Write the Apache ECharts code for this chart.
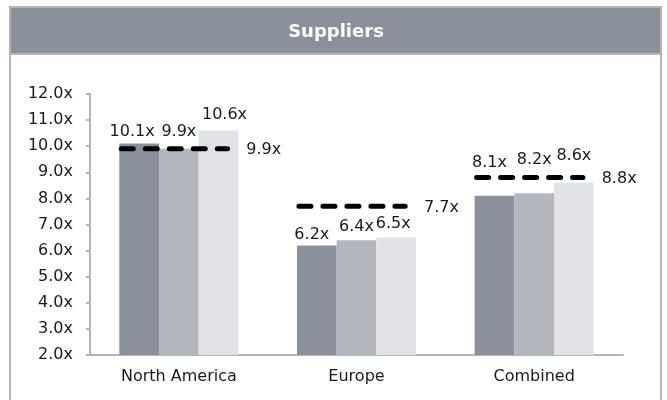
<!DOCTYPE html>
<html>
<head>
<meta charset="utf-8">
<script src="https://cdn.jsdelivr.net/npm/echarts@6/dist/echarts.min.js"></script>
<style>
html,body{margin:0;padding:0;background:#fff;}
#c{width:667px;height:400px;}
</style>
</head>
<body>
<div id="c"></div>
<script>
const categories = ['North America', 'Europe', 'Combined'];
const series1 = [10.1, 6.2, 8.1];
const series2 = [9.9, 6.4, 8.2];
const series3 = [10.6, 6.5, 8.6];
const benchmark = [9.9, 7.7, 8.8];
const titleText = 'Suppliers';

// label nudges (layout only), [dx, dy] per category for each bar series
const nudge1 = [[-7, 2], [-5, 3], [-5, -19]];
const nudge2 = [[0, -3], [0, 1], [0, -19]];
const nudge3 = [[6, -2], [-3, 0], [0, -13]];

const FONT = 'DejaVu Sans';
const fmt = v => v.toFixed(1) + 'x';

function barSeries(vals, color, nudge) {
  return {
    type: 'bar',
    barGap: '0%',
    barCategoryGap: '33%',
    itemStyle: { color: color },
    data: vals.map((v, i) => ({
      value: v,
      label: { offset: nudge[i] }
    })),
    label: {
      show: true,
      position: 'top',
      distance: 6,
      formatter: p => fmt(p.value),
      fontFamily: FONT,
      fontSize: 16,
      color: '#1a1a1a'
    },
    z: 2
  };
}

const chart = echarts.init(document.getElementById('c'), null, { renderer: 'canvas' });
chart.setOption({
  animation: false,
  backgroundColor: '#fff',
  graphic: [
    { type: 'rect', shape: { x: 10, y: 7, width: 651, height: 420 },
      style: { fill: 'none', stroke: '#b5b5b5', lineWidth: 2 }, z: 0 },
    { type: 'rect', shape: { x: 10, y: 7, width: 651, height: 47 },
      style: { fill: '#8a9099', stroke: '#b5b5b5', lineWidth: 2 }, z: 1 },
    { type: 'text', x: 336, y: 32,
      style: { text: titleText, fill: '#ffffff', font: 'bold 18px "DejaVu Sans"',
               textAlign: 'center', textVerticalAlign: 'middle' }, z: 2 }
  ],
  grid: { left: 90, right: 44, top: 94, bottom: 45 },
  xAxis: {
    type: 'category',
    data: categories,
    axisLine: { lineStyle: { color: '#b5b5b5', width: 2 } },
    axisTick: { show: false },
    axisLabel: { fontFamily: FONT, fontSize: 16, color: '#1a1a1a', margin: 14 }
  },
  yAxis: {
    type: 'value',
    min: 2, max: 12, interval: 1,
    splitLine: { show: false },
    axisLine: { show: true, lineStyle: { color: '#b5b5b5', width: 2 } },
    axisTick: { show: true, length: 4, lineStyle: { color: '#b5b5b5', width: 2 } },
    axisLabel: { fontFamily: FONT, fontSize: 16, color: '#1a1a1a', margin: 17,
                 formatter: v => fmt(v) }
  },
  series: [
    barSeries(series1, '#8a9099', nudge1),
    barSeries(series2, '#b3b7bd', nudge2),
    barSeries(series3, '#e1e2e6', nudge3),
    {
      type: 'custom',
      z: 5,
      data: benchmark.map((v, i) => [i, v]),
      encode: { x: 0, y: 1 },
      renderItem: function (params, api) {
        const c = api.coord([api.value(0), api.value(1)]);
        const w = api.size([1, 0])[0];
        const x1 = c[0] - 0.324 * w;
        const x2 = c[0] + 0.274 * w;
        return {
          type: 'group',
          children: [
            { type: 'line', shape: { x1: x1, y1: c[1], x2: x2, y2: c[1] },
              style: { stroke: '#000', lineWidth: 5, lineDash: [12, 12], lineCap: 'round' } },
            { type: 'text', x: c[0] + 0.38 * w, y: c[1] + 1.5,
              style: { text: fmt(api.value(1)), fill: '#1a1a1a',
                       font: '16px "DejaVu Sans"', textAlign: 'left', textVerticalAlign: 'middle' } }
          ]
        };
      }
    }
  ]
});
</script>
</body>
</html>
